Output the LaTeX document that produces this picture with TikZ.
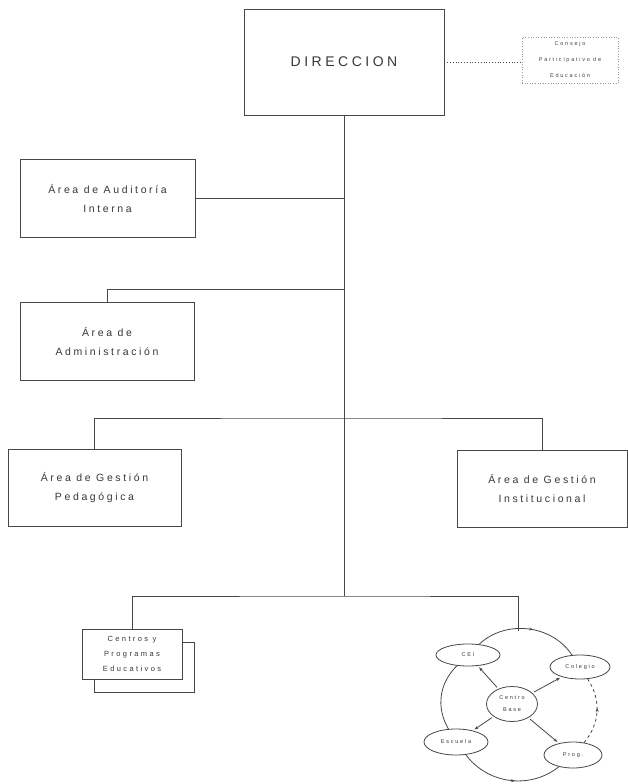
\documentclass[tikz,border=0pt]{standalone}
\usepackage{fontspec}
\setmainfont{Liberation Sans}
\newfontfamily\lsA[LetterSpace=25]{Liberation Sans}
\newfontfamily\lsB[LetterSpace=32]{Liberation Sans}
\usetikzlibrary{arrows.meta,shapes.geometric,shadows,decorations.markings}
\begin{document}
\begin{tikzpicture}[x=1pt,y=-1pt,
  ln/.style={draw=black!72, line width=0.8pt},
  conn/.style={black!72, line width=0.8pt},
  box/.style={ln, fill=white, rectangle, inner sep=0pt, align=center, text=black!78, font=\lsA\fontsize{10.5}{19}\selectfont},
  oval/.style={ln, fill=white, ellipse, inner sep=0pt, align=center, text=black!78, font=\lsB\fontsize{5.5}{12}\selectfont},
  arr/.style={conn, -{Stealth[length=4pt,width=3pt]}, shorten >=2pt, shorten <=2pt},
  midarrow/.style={postaction={decorate}, decoration={markings, mark=at position 0.55 with {\arrow{Stealth[length=4pt,width=3pt]}}}}
]
\fill[white] (0,0) rectangle (628,784);
\useasboundingbox (0,0) rectangle (628,784);

% main boxes
\node[box, minimum width=200pt, minimum height=106pt, font=\lsA\fontsize{14}{16}\selectfont] (dir) at (344,62) {DIRECCION};
\node[draw=black!40, dotted, line width=0.6pt, minimum width=96pt, minimum height=46pt, inner sep=0pt, align=center, text=black!75, font=\lsB\fontsize{5.5}{16}\selectfont] (cpe) at (570,60) {Consejo\\Participativo de\\Educación};
\node[box, minimum width=175pt, minimum height=78pt] (aud) at (107.5,198) {Área de Auditoría\\Interna};
\node[box, minimum width=174pt, minimum height=78pt] (adm) at (107,341) {Área de\\Administración};
\node[box, minimum width=173pt, minimum height=77pt] (ped) at (94.5,487.5) {Área de Gestión\\Pedagógica};
\node[box, minimum width=170pt, minimum height=77pt] (ins) at (542,488.5) {Área de Gestión\\Institucional};
\node[box, minimum width=100pt, minimum height=50pt, font=\lsB\fontsize{7.5}{15}\selectfont, copy shadow={shadow xshift=12pt, shadow yshift=-13pt}] (cen) at (132,654) {Centros y\\Programas\\Educativos};

% junction coordinates
\coordinate (j2) at (344,289);
\coordinate (j3) at (344,418);
\coordinate (jb) at (344,596);
\coordinate (ctop) at (518,631);

% connectors
\draw[conn, dotted] (dir.east) -- (dir.east -| cpe.west);
\draw[conn] (dir.south) -- (jb);
\draw[conn] (aud.east) -- (aud.east -| dir.south);
\draw[conn] (j2) -| (adm.north);
\draw[conn] (ped.north) |- (j3) -| (ins.north);
\draw[conn] (cen.north) |- (jb) -| (ctop);

% ring of centres
\node[oval, minimum width=64pt, minimum height=22pt] (cei) at (468,655) {CEI};
\node[oval, minimum width=60pt, minimum height=24pt] (col) at (580,667) {Colegio};
\node[oval, minimum width=51pt, minimum height=35pt] (cb) at (512,704) {Centro\\Base};
\node[oval, minimum width=64pt, minimum height=26pt] (esc) at (456,742) {Escuela};
\node[oval, minimum width=58pt, minimum height=26pt] (prg) at (573,755) {Prog.};

\draw[conn, midarrow] (cei) to[bend left=50] (col);
\draw[conn, dashed, midarrow] (prg) to[bend right=37] (col);
\draw[conn, midarrow] (esc) to[bend right=46] (prg);
\draw[conn] (esc) to[bend left=38] (cei);

\draw[arr] (cb) -- (cei);
\draw[arr] (cb) -- (col);
\draw[arr] (cb) -- (esc);
\draw[arr] (cb) -- (prg);
\end{tikzpicture}
\end{document}
